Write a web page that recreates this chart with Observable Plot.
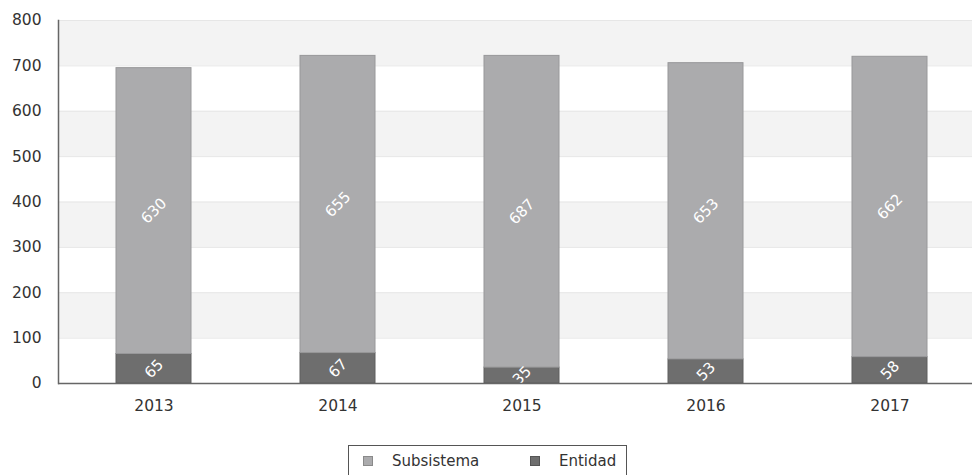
<!DOCTYPE html>
<html>
<head>
<meta charset="utf-8">
<script src="https://cdn.jsdelivr.net/npm/d3@7"></script>
<script src="https://cdn.jsdelivr.net/npm/@observablehq/plot@0.6"></script>
<style>
  body { margin: 0; background: #fff; font-family: "DejaVu Sans", sans-serif; width: 972px; height: 475px; overflow: hidden; }
  #chart svg { display: block; overflow: hidden; }
  .legend { position: absolute; left: 348px; top: 445px; width: 279px; height: 40px; border: 1px solid #555; box-sizing: border-box;
            font-size: 15px; color: #333; }
  .legend .item { position: absolute; top: 6px; display: flex; align-items: center; }
  .legend .sw { width: 10px; height: 10px; margin-right: 19px; box-sizing: border-box; }
</style>
</head>
<body>
<div id="chart"></div>
<div class="legend">
  <div class="item" style="left:14px"><span class="sw" style="background:#ababad;border:1px solid #8a8a8a"></span><span id="l1"></span></div>
  <div class="item" style="left:181px"><span class="sw" style="background:#6e6e6e;border:1px solid #555"></span><span id="l2"></span></div>
</div>
<script>
const years = ["2013", "2014", "2015", "2016", "2017"];
const subsistema = [630, 655, 687, 653, 662];
const entidad = [65, 67, 35, 53, 58];
const seriesNames = ["Subsistema", "Entidad"];
const yTicks = [0, 100, 200, 300, 400, 500, 600, 700, 800];

document.getElementById("l1").textContent = seriesNames[0];
document.getElementById("l2").textContent = seriesNames[1];

const rows = [];
years.forEach((yr, i) => {
  rows.push({year: yr, series: "Entidad", value: entidad[i], y1: 0, y2: entidad[i]});
  rows.push({year: yr, series: "Subsistema", value: subsistema[i], y1: entidad[i], y2: entidad[i] + subsistema[i]});
});
const bands = [];
for (let k = 1; k < yTicks.length; k += 2) bands.push({y1: yTicks[k], y2: yTicks[k + 1]});

const colors = {Subsistema: "#ababad", Entidad: "#6e6e6e"};
const strokes = {Subsistema: "#98989a", Entidad: "#5e5e5e"};

const chart = Plot.plot({
  width: 972,
  height: 430,
  marginTop: 20,
  marginBottom: 47,
  marginLeft: 58,
  marginRight: 0,
  style: {fontFamily: "DejaVu Sans, sans-serif", fontSize: "15.5px", color: "#333", background: "#fff"},
  x: {domain: years, range: [61, 983], paddingInner: 0.59, paddingOuter: 0.295, align: 0.5, label: null},
  y: {domain: [0, 800], label: null},
  marks: [
    Plot.rectY(bands, {y1: "y1", y2: "y2", fill: "#f3f3f3"}),
    Plot.ruleY(yTicks.slice(1), {stroke: "#e6e6e6", strokeWidth: 1}),
    Plot.barY(rows, {x: "year", y1: "y1", y2: "y2", fill: d => colors[d.series], stroke: d => strokes[d.series], strokeWidth: 1, inset: 0}),
    Plot.text(rows, {x: "year", y: d => (d.y1 + d.y2) / 2, text: d => String(d.value), rotate: -45, fill: "white", fontSize: 15}),
    Plot.axisY({ticks: yTicks, tickSize: 0, tickPadding: 17, label: null, fill: "#333"}),
    Plot.axisX({tickSize: 0, tickPadding: 16, label: null, fill: "#333"}),
    Plot.frame({anchor: "left", stroke: "#666", strokeWidth: 1.5}),
    Plot.ruleY([0], {stroke: "#666", strokeWidth: 1.5})
  ]
});
document.getElementById("chart").appendChild(chart);
</script>
</body>
</html>
